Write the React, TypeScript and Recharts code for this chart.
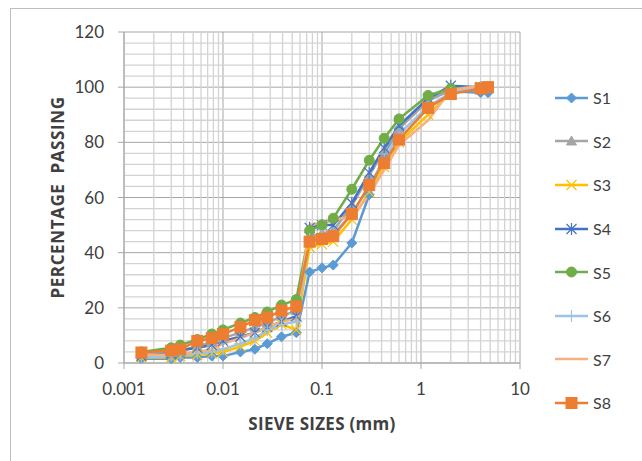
import React from 'react';
import { LineChart, Line, XAxis, YAxis, CartesianGrid, ReferenceLine } from 'recharts';

// sieve / hydrometer sizes (mm), coarse to fine
const sizes = [4.75, 4.0, 2.0, 1.18, 0.6, 0.425, 0.3, 0.2, 0.13, 0.1, 0.075, 0.055, 0.039, 0.028, 0.021, 0.015, 0.01, 0.0077, 0.0055, 0.0037, 0.003, 0.0015];

const s1 = [98, 98, 98.5, 96, 85, 76, 61, 43.5, 35.5, 34.5, 33, 11, 9.5, 7, 5, 4, 2.5, 2.5, 2, 2, 1.5, 1.5];
const s2 = [100, 100, 99, 95, 85, 77, 68, 57, 48, 47, 46, 19, 17, 14.5, 13, 11, 9, 7.5, 6, 4.5, 4, 3];
const s3 = [100, 100, 98, 90, 80, 71, 62, 52, 44, 43, 42, 12, 14, 11, 8, 6, 4, 3.5, 3, 2.5, 2, 2];
const s4 = [100, 100, 100.5, 96, 86, 78, 69, 58, 50, 50, 49, 17, 15, 13, 11, 9.5, 8, 6.5, 5.5, 4.5, 3.5, 2.5];
const s5 = [100, 100, 99.5, 97, 88.5, 81.5, 73.5, 63, 52.5, 50, 48, 23, 21, 18.5, 16.5, 14.5, 12, 10.5, 8.5, 6.5, 5.5, 4];
const s6 = [100, 100, 98, 93, 83, 74, 64, 54, 47, 46, 45, 15, 14, 12, 9, 7, 5, 4, 3.5, 3, 2.5, 2];
const s7 = [100, 100.5, 99, 88, 79, 70, 61, 53, 52, 51, 50, 16, 15, 13, 11, 9, 7, 5, 4, 3.5, 3, 3];
const s8 = [100, 99.5, 97.5, 92.5, 81, 72.5, 64.5, 54, 46, 45, 44, 20.5, 19, 16.5, 15.5, 13, 10.5, 9, 8, 5, 4.5, 3.8];

const xTicks = [0.001, 0.01, 0.1, 1, 10];
const yTicks = [0, 20, 40, 60, 80, 100, 120];
const xMinor = [0.002, 0.003, 0.004, 0.005, 0.006, 0.007, 0.008, 0.009, 0.02, 0.03, 0.04, 0.05, 0.06, 0.07, 0.08, 0.09, 0.2, 0.3, 0.4, 0.5, 0.6, 0.7, 0.8, 0.9, 2, 3, 4, 5, 6, 7, 8, 9];
const yMinor = [4, 8, 12, 16, 24, 28, 32, 36, 44, 48, 52, 56, 64, 68, 72, 76, 84, 88, 92, 96, 104, 108, 112, 116];

type Shape = 'diamond' | 'triangle' | 'x' | 'star' | 'circle' | 'plus' | 'none' | 'square';

const series: { name: string; values: number[]; color: string; shape: Shape }[] = [
  { name: 'S1', values: s1, color: '#5B9BD5', shape: 'diamond' },
  { name: 'S2', values: s2, color: '#A5A5A5', shape: 'triangle' },
  { name: 'S3', values: s3, color: '#FFC000', shape: 'x' },
  { name: 'S4', values: s4, color: '#4472C4', shape: 'star' },
  { name: 'S5', values: s5, color: '#70AD47', shape: 'circle' },
  { name: 'S6', values: s6, color: '#9DC3E6', shape: 'plus' },
  { name: 'S7', values: s7, color: '#F4B183', shape: 'none' },
  { name: 'S8', values: s8, color: '#ED7D31', shape: 'square' },
];

const FONT = 'Lato, "Open Sans", sans-serif';
const TITLE_FONT = '"Open Sans", Lato, sans-serif';

const Marker = ({ cx, cy, shape, color }: { cx: number; cy: number; shape: Shape; color: string }) => {
  if (cx == null || cy == null) return null;
  switch (shape) {
    case 'diamond':
      return <path d={`M${cx},${cy - 5}L${cx + 5},${cy}L${cx},${cy + 5}L${cx - 5},${cy}Z`} fill={color} stroke={color} />;
    case 'triangle':
      return <path d={`M${cx},${cy - 5}L${cx + 5},${cy + 4}L${cx - 5},${cy + 4}Z`} fill={color} stroke={color} />;
    case 'x':
      return <path d={`M${cx - 5},${cy - 5}L${cx + 5},${cy + 5}M${cx - 5},${cy + 5}L${cx + 5},${cy - 5}`} stroke={color} strokeWidth={1.2} />;
    case 'star':
      return <path d={`M${cx - 5},${cy - 5}L${cx + 5},${cy + 5}M${cx - 5},${cy + 5}L${cx + 5},${cy - 5}M${cx},${cy - 6}L${cx},${cy + 6}`} stroke={color} strokeWidth={1.2} />;
    case 'circle':
      return <circle cx={cx} cy={cy} r={5} fill={color} stroke={color} />;
    case 'plus':
      return <path d={`M${cx - 6},${cy}L${cx + 6},${cy}M${cx},${cy - 6}L${cx},${cy + 6}`} stroke={color} strokeWidth={1.2} />;
    case 'square':
      return <rect x={cx - 5.5} y={cy - 5.5} width={11} height={11} fill={color} stroke={color} />;
    default:
      return null;
  }
};

const Legend = () => (
  <div style={{ position: 'absolute', left: 552, top: 76, fontFamily: FONT, fontSize: 16, color: '#404040' }}>
    {series.map((s) => (
      <div key={s.name} style={{ display: 'flex', alignItems: 'center', height: 43.6 }}>
        <svg width={40} height={20}>
          <line x1={3} y1={10} x2={36} y2={10} stroke={s.color} strokeWidth={2.5} />
          <Marker cx={19.5} cy={10} shape={s.shape} color={s.color} />
        </svg>
        <span style={{ marginLeft: 1 }}>{s.name}</span>
      </div>
    ))}
  </div>
);

export default function App() {
  return (
    <div style={{ position: 'absolute', left: 0, top: 0, width: 642, height: 461, overflow: 'hidden', background: '#fff' }}>
      <div style={{ position: 'absolute', left: 10, top: 8, width: 660, height: 480, border: '1px solid #bfbfbf' }} />
      <LineChart width={642} height={461} margin={{ top: 32, right: 122, bottom: 0, left: 0 }} style={{ position: 'absolute', left: 0, top: 0 }}>
        {xMinor.map((v) => (
          <ReferenceLine key={`vx${v}`} x={v} stroke="#d3d3d3" strokeWidth={1.3} />
        ))}
        {yMinor.map((v) => (
          <ReferenceLine key={`hy${v}`} y={v} stroke="#d3d3d3" strokeWidth={1.3} />
        ))}
        <CartesianGrid stroke="#a6a6a6" strokeWidth={1} />
        <XAxis
          type="number"
          dataKey="size"
          scale="log"
          domain={[0.001, 10]}
          ticks={xTicks}
          allowDataOverflow
          height={98}
          stroke="#a6a6a6"
          tickSize={6}
          tickMargin={14}
          tick={{ fill: '#404040', fontSize: 17, fontFamily: FONT }}
          tickFormatter={(v: number) => String(v)}
          label={{
            content: ({ viewBox }: any) => (
              <text x={viewBox.x + viewBox.width / 2} y={viewBox.y + 67} textAnchor="middle" fontFamily={TITLE_FONT} fontWeight="bold" fontSize={17} letterSpacing={0.3} fill="#404040">
                SIEVE SIZES (mm)
              </text>
            ),
          }}
        />
        <YAxis
          type="number"
          domain={[0, 120]}
          ticks={yTicks}
          width={124}
          stroke="#a6a6a6"
          tickSize={6}
          tickMargin={14}
          tick={{ fill: '#404040', fontSize: 17, fontFamily: FONT }}
          label={{
            content: ({ viewBox }: any) => {
              const x = viewBox.x + 64;
              const y = viewBox.y + viewBox.height / 2;
              return (
                <text x={x} y={y} transform={`rotate(-90 ${x} ${y})`} textAnchor="middle" fontFamily={TITLE_FONT} fontWeight="bold" fontSize={17} letterSpacing={0.6} fill="#404040" style={{ whiteSpace: 'pre' }}>
                  {'PERCENTAGE  PASSING'}
                </text>
              );
            },
          }}
        />
        {series.map((s) => (
          <Line
            key={s.name}
            name={s.name}
            data={sizes.map((size, i) => ({ size, p: s.values[i] }))}
            dataKey="p"
            type="linear"
            stroke={s.color}
            strokeWidth={2.5}
            isAnimationActive={false}
            dot={(props: any) => (
              <g key={`${s.name}-${props.index}`}>
                <Marker cx={props.cx} cy={props.cy} shape={s.shape} color={s.color} />
              </g>
            )}
            activeDot={false}
          />
        ))}
      </LineChart>
      <Legend />
    </div>
  );
}
